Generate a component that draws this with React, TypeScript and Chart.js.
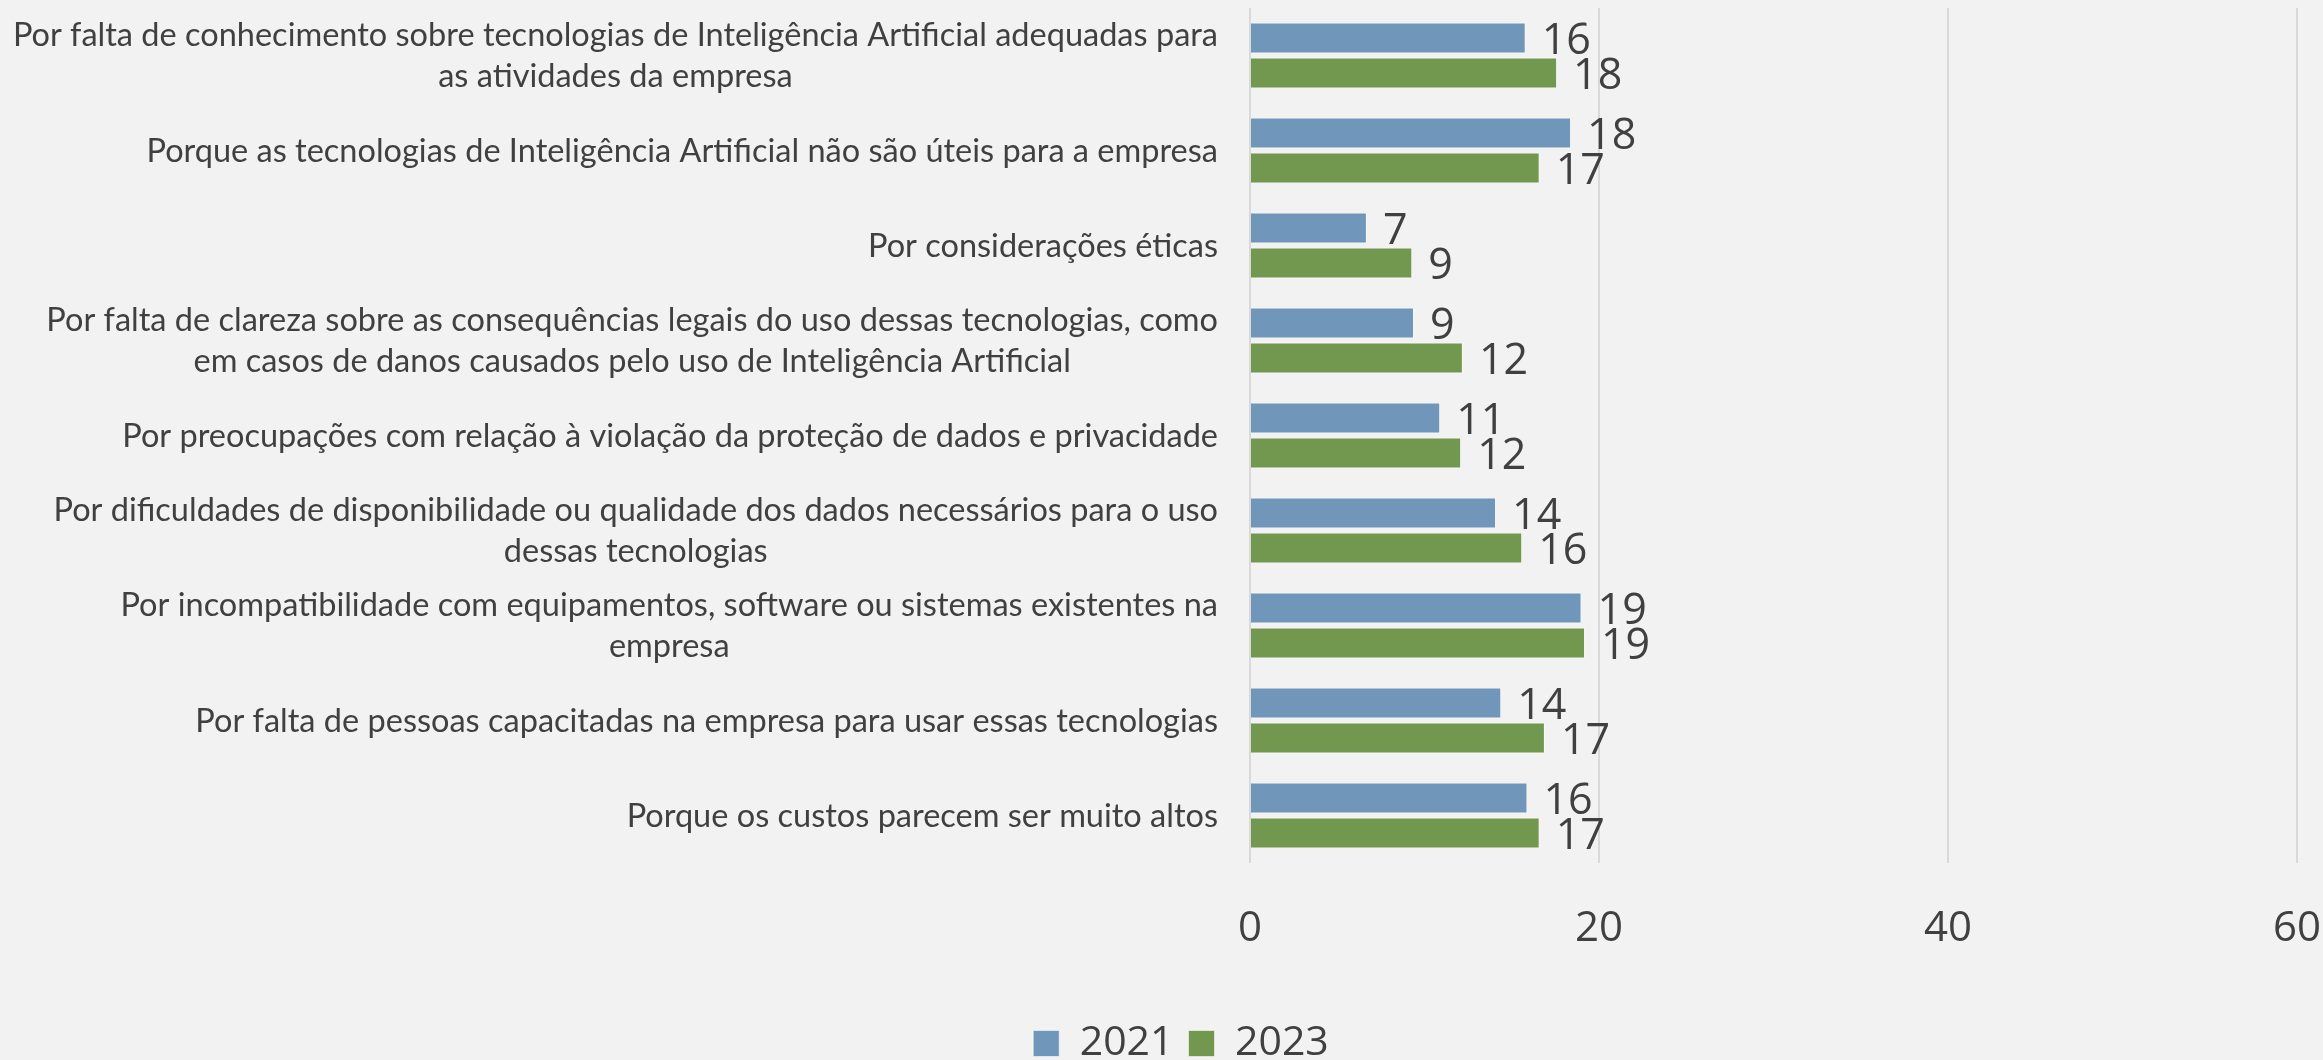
import React, { useEffect, useRef } from "react";
import { Chart, registerables } from "chart.js";

Chart.register(...registerables);

const categories: string[][] = [
  ["Por falta de conhecimento sobre tecnologias de Inteligência Artificial adequadas para", "as atividades da empresa"],
  ["Porque as tecnologias de Inteligência Artificial não são úteis para a empresa"],
  ["Por considerações éticas"],
  ["Por falta de clareza sobre as consequências legais do uso dessas tecnologias, como", "em casos de danos causados pelo uso de Inteligência Artificial"],
  ["Por preocupações com relação à violação da proteção de dados e privacidade"],
  ["Por dificuldades de disponibilidade ou qualidade dos dados necessários para o uso", "dessas tecnologias"],
  ["Por incompatibilidade com equipamentos, software ou sistemas existentes na", "empresa"],
  ["Por falta de pessoas capacitadas na empresa para usar essas tecnologias"],
  ["Porque os custos parecem ser muito altos"],
];

const series2021: number[] = [15.8, 18.4, 6.7, 9.4, 10.9, 14.1, 19.0, 14.4, 15.9];
const series2023: number[] = [17.6, 16.6, 9.3, 12.2, 12.1, 15.6, 19.2, 16.9, 16.6];
const seriesLabels: string[] = ["2021", "2023"];
const xTicks: number[] = [0, 20, 40, 60];

const FONT = "'Open Sans', 'Noto Sans', sans-serif";
const CAT_FONT = "Lato, 'Open Sans', sans-serif";
const TEXT = "#404040";

const categoryLabelPlugin = {
  id: "categoryLabels",
  afterDraw(chart: any) {
    const ctx = chart.ctx;
    const yScale = chart.scales.y;
    ctx.save();
    ctx.font = `32.5px ${CAT_FONT}`;
    ctx.fillStyle = TEXT;
    ctx.textAlign = "center";
    ctx.textBaseline = "middle";
    categories.forEach((lines, i) => {
      const yc = yScale.getPixelForValue(i) + 1;
      const bw = Math.max(...lines.map((l) => ctx.measureText(l).width));
      const cx = yScale.right - 32 - bw / 2;
      lines.forEach((l, j) => {
        ctx.fillText(l, cx, yc + (j - (lines.length - 1) / 2) * 41);
      });
    });
    ctx.restore();
  },
};

const valueLabelPlugin = {
  id: "valueLabels",
  afterDatasetsDraw(chart: any) {
    const ctx = chart.ctx;
    ctx.save();
    ctx.font = `43px ${FONT}`;
    ctx.fillStyle = TEXT;
    ctx.textAlign = "left";
    ctx.textBaseline = "middle";
    chart.data.datasets.forEach((ds: any, di: number) => {
      const meta = chart.getDatasetMeta(di);
      meta.data.forEach((el: any, i: number) => {
        ctx.fillText(String(Math.round(ds.data[i])), el.x + 16, el.y + 4);
      });
    });
    ctx.restore();
  },
};

export default function App() {
  const ref = useRef<HTMLCanvasElement | null>(null);
  useEffect(() => {
    if (!ref.current) return;
    const chart = new Chart(ref.current, {
      type: "bar",
      data: {
        labels: categories.map((c) => c.join(" ")),
        datasets: [
          {
            label: seriesLabels[0],
            data: series2021,
            backgroundColor: "#7097BA",
            borderColor: "rgba(255,255,255,0.55)",
            borderWidth: 1,
            categoryPercentage: 0.737,
            barPercentage: 0.886,
          },
          {
            label: seriesLabels[1],
            data: series2023,
            backgroundColor: "#72984F",
            borderColor: "rgba(255,255,255,0.55)",
            borderWidth: 1,
            categoryPercentage: 0.737,
            barPercentage: 0.886,
          },
        ],
      },
      options: {
        indexAxis: "y",
        responsive: false,
        animation: false,
        layout: { padding: { top: 8, right: 0, left: 0, bottom: 0 } },
        scales: {
          x: {
            min: 0,
            max: 60,
            afterBuildTicks: (axis: any) => {
              axis.ticks = xTicks.map((v) => ({ value: v }));
            },
            afterFit: (axis: any) => {
              axis.height = 145;
            },
            grid: { color: "#D9D9D9", lineWidth: 2, drawTicks: false },
            border: { display: false },
            ticks: {
              color: TEXT,
              font: { family: FONT, size: 42 },
              padding: 41,
            },
          },
          y: {
            afterFit: (axis: any) => {
              axis.width = 1250;
            },
            grid: { display: false },
            border: { display: false },
            ticks: { display: false },
          },
        },
        plugins: {
          legend: {
            position: "bottom",
            labels: {
              boxWidth: 26,
              boxHeight: 26,
              padding: 15,
              color: TEXT,
              font: { family: FONT, size: 41 },
            },
          },
          tooltip: { enabled: false },
        },
      },
      plugins: [categoryLabelPlugin, valueLabelPlugin],
    } as any);
    return () => chart.destroy();
  }, []);
  return (
    <div
      style={{
        position: "fixed",
        left: 0,
        top: 0,
        width: 2323,
        height: 1060,
        overflow: "hidden",
        background: "#F2F2F2",
      }}
    >
      <canvas ref={ref} width={2362} height={1074} style={{ display: "block" }} />
    </div>
  );
}
